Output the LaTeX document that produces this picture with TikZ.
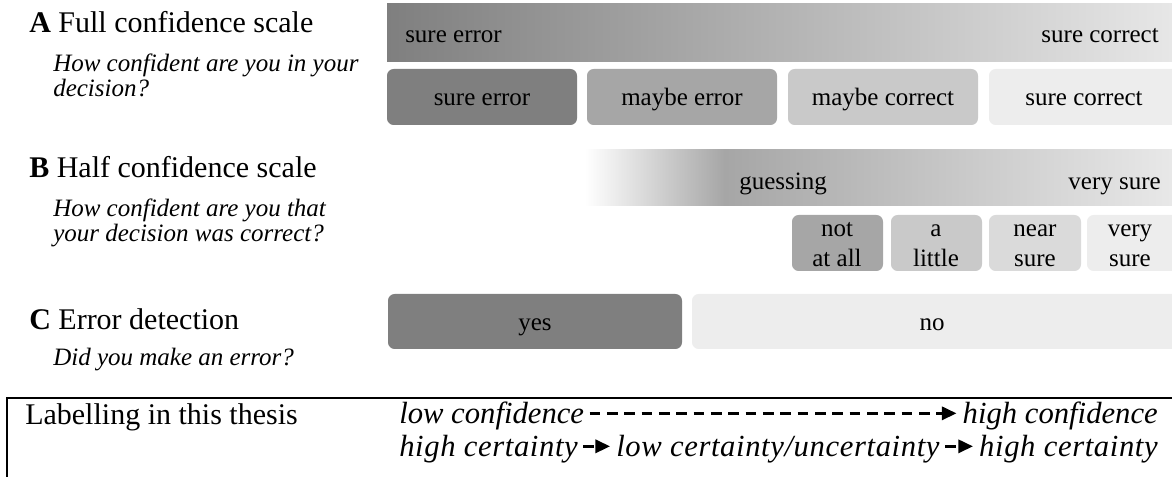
\documentclass[tikz,border=0pt]{standalone}
\usepackage{fontspec}
\setmainfont{Liberation Serif}
\newfontfamily\widetag{Liberation Serif}[LetterSpace=2]
\usetikzlibrary{arrows.meta}

\definecolor{tone1}{HTML}{7F7F7F}
\definecolor{tone2}{HTML}{A6A6A6}
\definecolor{tone3}{HTML}{C9C9C9}
\definecolor{tone4}{HTML}{DADADA}
\definecolor{tone5}{HTML}{EDEDED}
\definecolor{fade}{HTML}{E8E8E8}

% half scale: white -> dark -> light
\pgfdeclarehorizontalshading{halfbar}{100bp}{color(0bp)=(white); color(25bp)=(white); color(36.9bp)=(tone2); color(75bp)=(fade); color(100bp)=(fade)}

\begin{document}
\begin{tikzpicture}[x=0.75pt,y=-0.75pt,
  heading/.style={anchor=base west,inner sep=0pt,font=\fontsize{22.5}{27}\selectfont},
  question/.style={anchor=base west,inner sep=0pt,align=left,font=\fontsize{18.75}{18.75}\selectfont\itshape},
  scaletext/.style={anchor=base,inner sep=0pt,align=center,font=\fontsize{18.75}{22.5}\selectfont},
  option/.style={rounded corners=5pt},
  tagtext/.style={anchor=base west,inner xsep=1.5pt,inner ysep=0pt,text height=18pt,text depth=2pt,font=\fontsize{23}{23}\selectfont\itshape},
  widetext/.style={tagtext,font=\fontsize{23}{23}\widetag\itshape},
  dashedarrow/.style={line width=1.9pt,dash pattern=on 8pt off 5pt,shorten <=2.5pt,shorten >=3pt,-{Triangle[length=11pt,width=10pt]}}
]
\clip (0,0) rectangle (1172,477);

%A full scale
\node[heading] (headA) at (29,33) {\textbf{A} Full confidence scale};
\node[question] (askA) at (53,97) {How confident are you in your\\decision?};
\fill[left color=tone1,right color=fade] (387,4) rectangle (1180,62); %bar
\node[scaletext,anchor=base west] (fullLo) at (405,43) {sure error};
\node[scaletext,anchor=base east] (fullHi) at (1159,43) {sure correct};
\fill[option,tone1] (387,69) rectangle (577,125);
\fill[option,tone2] (587,69) rectangle (777,125);
\fill[option,tone3] (788,69) rectangle (978,125);
\fill[option,tone5] (989,69) rectangle (1180,125);
\node[scaletext] (fullA) at (482,106) {sure error};
\node[scaletext] (fullB) at (682,106) {maybe error};
\node[scaletext] (fullC) at (883,106) {maybe correct};
\node[scaletext] (fullD) at (1084,106) {sure correct};

%B half scale
\node[heading] (headB) at (29,178) {\textbf{B} Half confidence scale};
\node[question] (askB) at (53,242) {How confident are you that\\your decision was correct?};
\fill[shading=halfbar] (585,150) rectangle (1172,206); %bar
\node[scaletext,anchor=base west] (halfLo) at (739,190) {guessing};
\node[scaletext,anchor=base east] (halfHi) at (1161,190) {very sure};
\fill[option,tone2] (792,215) rectangle (883,271);
\fill[option,tone3] (891,215) rectangle (982,271);
\fill[option,tone4] (989,215) rectangle (1081,271);
\fill[option,tone5] (1087,215) rectangle (1180,271);
\node[scaletext] (halfA) at (837,267) {not\\at all};
\node[scaletext] (halfB) at (936,267) {a\\little};
\node[scaletext] (halfC) at (1035,267) {near\\sure};
\node[scaletext] (halfD) at (1130,267) {very\\sure};

%C error detection
\node[heading] (headC) at (29,330) {\textbf{C} Error detection};
\node[question] (askC) at (53,366) {Did you make an error?};
\fill[option,tone1] (388,294) rectangle (682,349);
\fill[option,tone5] (692,294) rectangle (1180,349);
\node[scaletext] (detYes) at (535,331) {yes};
\node[scaletext] (detNo) at (932,331) {no};

%labelling box
\draw[line width=1.9pt] (7,480) -- (7,398) -- (1180,398);
\node[heading] (tagHead) at (25,425) {Labelling in this thesis};
\node[tagtext] (lowConf) at (397,424) {low confidence};
\node[tagtext,anchor=base east] (highConf) at (1160,424) {high confidence};
\node[widetext] (highCert) at (397,457) {high certainty};
\node[widetext] (lowCert) at (614,457) {low certainty/uncertainty};
\node[widetext,anchor=base east] (highCertR) at (1160,457) {high certainty};
\draw[dashedarrow] (lowConf) -- (highConf);
\draw[dashedarrow] (highCert) -- (lowCert);
\draw[dashedarrow] (lowCert) -- (highCertR);
\end{tikzpicture}
\end{document}
